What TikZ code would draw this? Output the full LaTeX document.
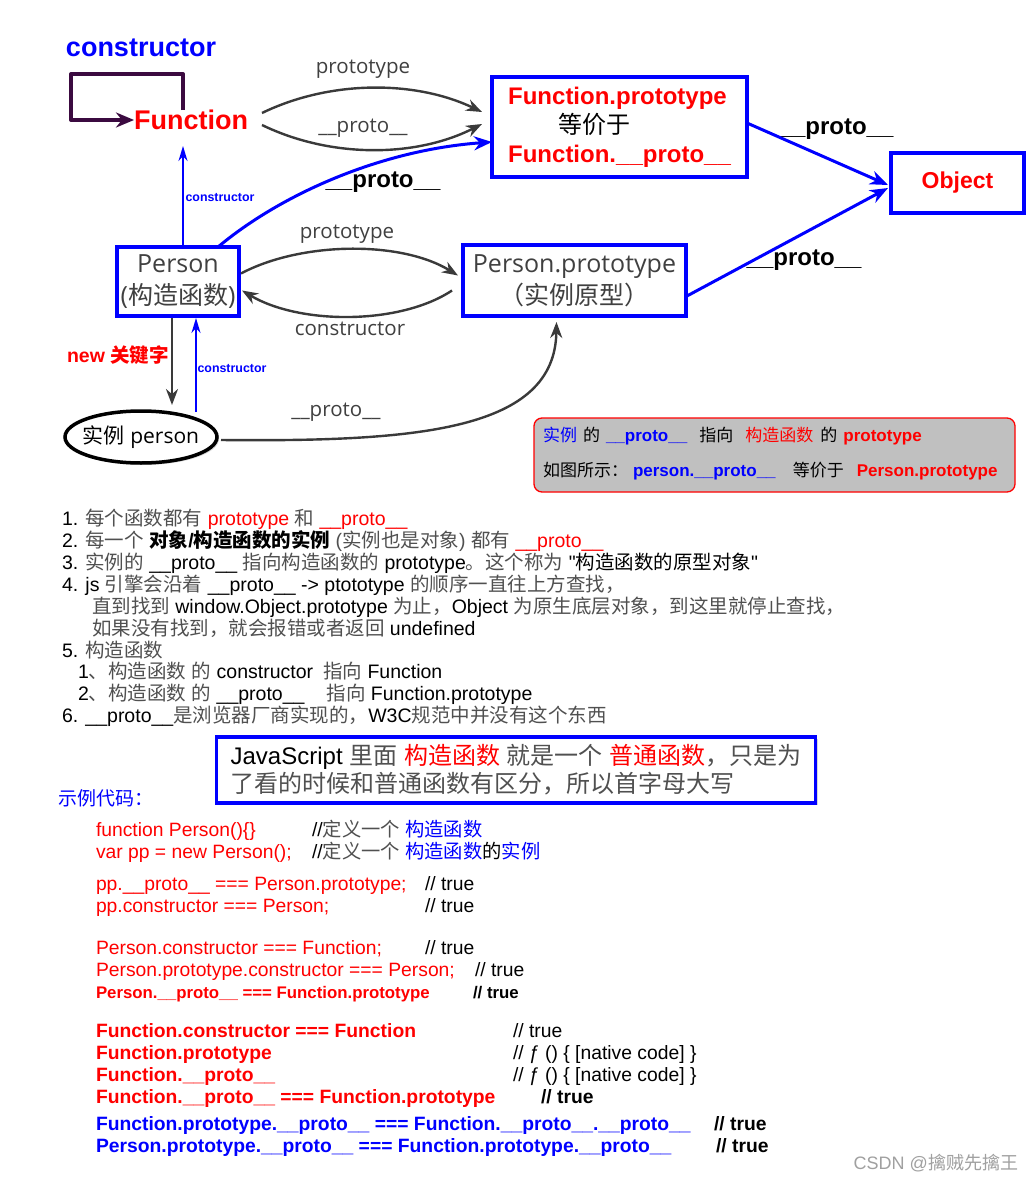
\documentclass[tikz,border=0pt]{standalone}
\usepackage{fontspec}
\setmainfont{Liberation Sans}
\newfontfamily\cjk{Noto Sans CJK SC}
\newfontfamily\segoe{Open Sans}
\newfontfamily\straightsf[Ligatures=TeXOff]{Liberation Sans}
\usetikzlibrary{arrows.meta,positioning,shapes.geometric,shadows,calc}
\definecolor{jsblue}{HTML}{0000FF}
\definecolor{jsred}{HTML}{FF0000}
\definecolor{arrowgray}{HTML}{3A3A3A}
\definecolor{labelgray}{HTML}{404040}
\definecolor{zhgray}{HTML}{505050}
\definecolor{loopviolet}{HTML}{3B0A40}
\definecolor{notefill}{HTML}{C0C0C0}
\definecolor{markgray}{HTML}{A0A0A0}
% Chinese characters fall back to the CJK family
\XeTeXinterchartokenstate=1
\newXeTeXintercharclass\zhclass
\makeatletter
\def\zhrange#1#2{\count@=#1 \loop\ifnum\count@<#2 \XeTeXcharclass\count@=\zhclass\advance\count@ by 1 \repeat}
\zhrange{"3000}{"3040}
\zhrange{"4E00}{"A000}
\zhrange{"FF00}{"FFF0}
\makeatother
\XeTeXinterchartoks 0 \zhclass = {\begingroup\cjk}
\XeTeXinterchartoks 4095 \zhclass = {\begingroup\cjk}
\XeTeXinterchartoks \zhclass 0 = {\endgroup}
\XeTeXinterchartoks \zhclass 4095 = {\endgroup}
\newcommand\rd[1]{\textcolor{jsred}{#1}}
\newcommand\bl[1]{\textcolor{jsblue}{#1}}
\newcommand\zg[1]{\textcolor{zhgray}{#1}}
\tikzset{
  every node/.style={inner sep=0pt,outer sep=0pt},
  bluebox/.style={draw=jsblue,line width=3.5pt,fill=white,drop shadow={shadow xshift=2pt,shadow yshift=-2pt,opacity=.3}},
  grayarc/.style={draw=arrowgray,line width=2.4pt,-{Stealth[length=16pt,width=12pt]}},
  bluearc/.style={draw=jsblue,line width=3pt,-{Stealth[length=18pt,width=14pt]}},
  thinblue/.style={draw=jsblue,line width=2pt,-{Stealth[length=15pt,width=9pt]}},
  selfloop/.style={draw=loopviolet,line width=4pt,line join=round,-{Stealth[length=18pt,width=15pt]}},
  tag/.style={font={\segoe\fontsize{20.5}{24}\selectfont},text=labelgray},
  protolabel/.style={font={\bfseries\fontsize{24}{28}\selectfont}},
  minitag/.style={font={\bfseries\fontsize{12.4}{14}\selectfont},text=jsblue},
  notetext/.style={anchor=base west,font={\fontsize{17}{20}\selectfont}},
  listline/.style={anchor=base west,font={\fontsize{19.5}{22}\selectfont}},
  codeline/.style={anchor=base west,font={\fontsize{19.3}{22}\selectfont},text=jsred},
  boldcode/.style={codeline,font={\bfseries\fontsize{19.3}{22}\selectfont}},
  commentline/.style={anchor=base west,font={\fontsize{19.3}{22}\selectfont}}
}
\begin{document}
\begin{tikzpicture}[x=1pt,y=-1pt]
\path[use as bounding box,fill=white] (0,0) rectangle (1034,1182);

% prototype chain
\node[font={\bfseries\fontsize{27}{30}\selectfont},text=jsblue] (ctorword) at (141,48) {constructor};
\node[font={\bfseries\fontsize{27}{30}\selectfont},text=jsred] (fn) at (191,120) {Function};
\node[bluebox,minimum width=255pt,minimum height=100pt,align=left,font={\bfseries\fontsize{24}{29}\selectfont}] (fp) at (619.5,127) {\rd{Function.prototype}\\\hspace*{50pt}{\mdseries 等价于}\\\rd{Function.\_\_proto\_\_}};
\node[bluebox,minimum width=133pt,minimum height=60pt,text=jsred,font={\bfseries\fontsize{23}{26}\selectfont}] (obj) at (957.5,183) {Object};
\node[bluebox,minimum width=122pt,minimum height=69pt,align=center,text=labelgray,font={\segoe\fontsize{25}{32}\selectfont}] (person) at (178,281.5) {Person\\(构造函数)};
\node[bluebox,minimum width=223pt,minimum height=71pt,align=center,text=labelgray,font={\segoe\fontsize{25}{32}\selectfont}] (pproto) at (574.5,280.5) {Person.prototype\\（实例原型）};
\node[ellipse,draw=black,fill=white,line width=3.5pt,inner xsep=-5.5pt,inner ysep=5pt,minimum width=152pt,minimum height=52pt,font={\segoe\fontsize{21}{24}\selectfont},drop shadow={shadow xshift=2pt,shadow yshift=-2pt,opacity=.3}] (inst) at (141,437) {实例 person};

\node[tag] (lblFnProto) at (363,69) {prototype};
\node[tag] (lblFnDunder) at (363,128) {\_\_proto\_\_};
\node[protolabel] (lblPersonFp) at (383,182) {\_\_proto\_\_};
\node[protolabel] (lblFpObj) at (836,129) {\_\_proto\_\_};
\node[protolabel] (lblPpObj) at (804,260) {\_\_proto\_\_};
\node[minitag] (lblCtorUp) at (220,198) {constructor};
\node[tag] (lblPrototype) at (347,234) {prototype};
\node[tag] (lblCtorBack) at (350,329) {constructor};
\node[font={\bfseries\fontsize{19.5}{22}\selectfont},text=jsred] (lblNew) at (118,355) {new 关键字};
\node[minitag] (lblCtorInst) at (232,369) {constructor};
\node[tag] (lblInstProto) at (336,412) {\_\_proto\_\_};
\coordinate (fnfoot) at (183,146);

\draw[selfloop] ([xshift=-8pt]fn.north) -- ++(0,-36) -| ([xshift=-63pt]fn.west) -- (fn.west);
\draw[grayarc] ([shift={(14,-7)}]fn.east) .. controls (330,80) and (415,80) .. ([shift={(-10,-15)}]fp.west);
\draw[grayarc] ([shift={(14,5)}]fn.east) .. controls (330,158) and (415,158) .. ([shift={(-10,-3)}]fp.west);
\draw[bluearc] ([xshift=-21pt]person.north east) .. controls (280,195) and (380,150) .. ([yshift=-15pt]fp.west);
\draw[bluearc] ([yshift=4pt]fp.east) -- ([shift={(-3,2)}]obj.west);
\draw[bluearc] ([yshift=-16pt]pproto.east) -- ([shift={(-3,5)}]obj.west);
\draw[thinblue] ([xshift=5pt]person.north) -- (fnfoot);
\draw[grayarc] ([shift={(2,-8)}]person.east) .. controls (300,242) and (400,240) .. ([shift={(-5,-5)}]pproto.west);
\draw[grayarc] ([shift={(-11,10)}]pproto.west) .. controls (400,325) and (300,325) .. ([shift={(3,9)}]person.east);
\draw[grayarc] ($(person.south)+(-6,2)$) -- ($(person.south |- inst.north)+(-6,-6)$);
\draw[thinblue] ($(person.south |- inst.north)+(18,1)$) -- ($(person.south)+(18,2)$);
\draw[grayarc] ($(inst.east)+(4,3)$) .. controls (420,442) and (555,430) .. ($(pproto.south)+(-18,6)$);

% summary note
\node[draw=jsred,line width=1.3pt,fill=notefill,rounded corners=8pt,minimum width=481pt,minimum height=74pt] (note) at (774.5,455) {};
\node[notetext] (note1) at (543,441) {\bl{实例}\hspace{6pt}的\hspace{6pt}\bl{\textbf{\_\_proto\_\_}}\hspace{12pt}指向\hspace{12pt}\rd{构造函数}\hspace{7pt}的\hspace{6pt}\rd{\textbf{prototype}}};
\node[notetext] (note2) at (543,476) {如图所示：\hspace{5pt}\bl{\textbf{person.\_\_proto\_\_}}\hspace{17pt}等价于\hspace{13pt}\rd{\textbf{Person.prototype}}};

% numbered remarks
\node[listline] (item1) at (62,525) {1. \zg{每个函数都有} \rd{prototype} \zg{和} \rd{\_\_proto\_\_}};
\node[listline] (item2) at (62,547) {2. \zg{每一个} \textbf{对象/构造函数的实例} \zg{(实例也是对象) 都有} \rd{\_\_proto\_\_}};
\node[listline] (item3) at (62,569) {3. \zg{实例的} \_\_proto\_\_ \zg{指向构造函数的} prototype\zg{。这个称为} {\straightsf "}构造函数的原型对象{\straightsf "}};
\node[listline] (item4) at (62,591) {4. js \zg{引擎会沿着} \_\_proto\_\_ -> ptototype \zg{的顺序一直往上方查找，}};
\node[listline] (item4b) at (92,613) {\zg{直到找到} window.Object.prototype \zg{为止，}Object \zg{为原生底层对象，到这里就停止查找，}};
\node[listline] (item4c) at (92,635) {\zg{如果没有找到，就会报错或者返回} undefined};
\node[listline] (item5) at (62,657) {5. \zg{构造函数}};
\node[listline] (item5a) at (78,678) {1\zg{、构造函数 的} constructor\hspace{10pt}\zg{指向} Function};
\node[listline] (item5b) at (78,700) {2\zg{、构造函数 的} \_\_proto\_\_\hspace{22pt}\zg{指向} Function.prototype};
\node[listline] (item6) at (62,722) {6. \_\_proto\_\_\zg{是浏览器厂商实现的，}W3C\zg{规范中并没有这个东西}};

% remark box and sample code
\node[bluebox,minimum width=599pt,minimum height=66pt,align=left,text=zhgray,font={\fontsize{24}{28}\selectfont}] (jsnote) at (516,770) {\textcolor{black}{JavaScript} 里面 \rd{构造函数} 就是一个 \rd{普通函数}，只是为\\了看的时候和普通函数有区分，所以首字母大写};
\node[anchor=base west,text=jsblue,font={\fontsize{19}{21}\selectfont}] (codehead) at (58,805) {示例代码：};

\node[codeline] (c1) at (96,836) {function Person()\{\}};
\node[commentline] (c1note) at (312,836) {//\zg{定义一个} \bl{构造函数}};
\node[codeline] (c2) at (96,858) {var pp = new Person();};
\node[commentline] (c2note) at (312,858) {//\zg{定义一个} \bl{构造函数}的\bl{实例}};
\node[codeline] (c3) at (96,890) {pp.\_\_proto\_\_ === Person.prototype;};
\node[commentline] (c3note) at (425,890) {// true};
\node[codeline] (c4) at (96,912) {pp.constructor === Person;};
\node[commentline] (c4note) at (425,912) {// true};
\node[codeline] (c5) at (96,954) {Person.constructor === Function;};
\node[commentline] (c5note) at (425,954) {// true};
\node[codeline] (c6) at (96,976) {Person.prototype.constructor === Person;};
\node[commentline] (c6note) at (475,976) {// true};
\node[codeline,font={\bfseries\fontsize{16.8}{20}\selectfont}] (c7) at (96,998) {Person.\_\_proto\_\_ === Function.prototype};
\node[commentline,font={\bfseries\fontsize{16.8}{20}\selectfont}] (c7note) at (473,998) {// true};

\node[boldcode] (c8) at (96,1037) {Function.constructor === Function};
\node[commentline] (c8note) at (513,1037) {// true};
\node[boldcode] (c9) at (96,1059) {Function.prototype};
\node[commentline] (c9note) at (513,1059) {// ƒ () \{ [native code] \}};
\node[boldcode] (c10) at (96,1081) {Function.\_\_proto\_\_};
\node[commentline] (c10note) at (513,1081) {// ƒ () \{ [native code] \}};
\node[boldcode] (c11) at (96,1103) {Function.\_\_proto\_\_ === Function.prototype};
\node[commentline,font={\bfseries\fontsize{19.3}{22}\selectfont}] (c11note) at (541,1103) {// true};
\node[boldcode,text=jsblue] (c12) at (96,1130) {Function.prototype.\_\_proto\_\_ === Function.\_\_proto\_\_.\_\_proto\_\_};
\node[commentline,font={\bfseries\fontsize{19.3}{22}\selectfont}] (c12note) at (714,1130) {// true};
\node[boldcode,text=jsblue] (c13) at (96,1152) {Person.prototype.\_\_proto\_\_ === Function.prototype.\_\_proto\_\_};
\node[commentline,font={\bfseries\fontsize{19.3}{22}\selectfont}] (c13note) at (716,1152) {// true};

\node[anchor=base east,text=markgray,font={\fontsize{18}{20}\selectfont}] (mark) at (1018,1169) {CSDN @擒贼先擒王};
\end{tikzpicture}
\end{document}
